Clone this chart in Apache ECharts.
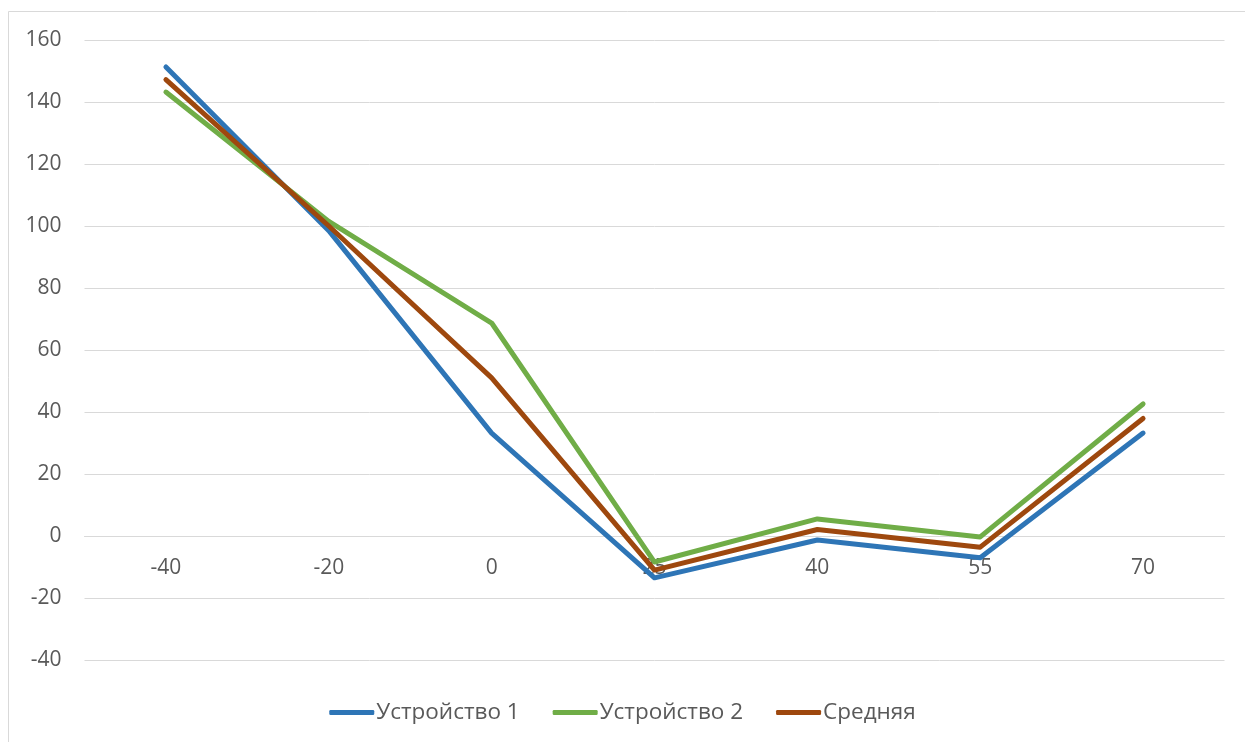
<!DOCTYPE html>
<html><head><meta charset="utf-8">
<script src="https://cdn.jsdelivr.net/npm/echarts@6/dist/echarts.min.js"></script>
<style>html,body{margin:0;padding:0;background:#fff}#c{width:1245px;height:742px}</style>
</head><body><div id="c"></div>
<script>
const categories = ['-40', '-20', '0', '25', '40', '55', '70'];
const device1 = [151.3, 98.5, 33.2, -13.5, -1.3, -7.0, 33.2];
const device2 = [143.2, 101.5, 68.7, -8.4, 5.5, -0.3, 42.6];
const average = [147.2, 100.0, 51.0, -11.0, 2.1, -3.6, 37.9];
const seriesNames = ['Устройство 1', 'Устройство 2', 'Средняя'];
const colors = ['#2E75B6', '#70AD47', '#9E480E'];
const font = '"Open Sans", "Liberation Sans", sans-serif';

const chart = echarts.init(document.getElementById('c'), null, {renderer: 'canvas'});
const mk = (name, data, color) => ({
  name, type: 'line', data, symbol: 'none', smooth: false,
  lineStyle: {color, width: 5, cap: 'round', join: 'round'},
  itemStyle: {color}, z: 3
});
chart.setOption({
  animation: false,
  backgroundColor: '#fff',
  graphic: [{type: 'rect', shape: {x: 8.5, y: 11.5, width: 1300, height: 800},
    style: {fill: 'none', stroke: '#d9d9d9', lineWidth: 1}, silent: true, z: -1}],
  grid: {left: 84.5, right: 20.5, top: 40, bottom: 82, containLabel: false},
  legend: {
    bottom: 13, left: 'center', icon: 'roundRect', itemWidth: 45, itemHeight: 5,
    itemGap: 33,
    textStyle: {color: '#595959', fontSize: 22.5, fontFamily: font, padding: [0, 0, 0, -3]},
    data: seriesNames
  },
  xAxis: {
    type: 'category', data: categories, boundaryGap: true, position: 'bottom', offset: -124,
    axisLine: {show: true, onZero: false, lineStyle: {color: '#d9d9d9', width: 1}},
    axisTick: {show: false},
    axisLabel: {color: '#595959', fontSize: 21, fontFamily: font, margin: 22},
    splitLine: {show: false}, z: 1
  },
  yAxis: {
    type: 'value', min: -40, max: 160, interval: 20,
    axisLine: {show: false}, axisTick: {show: false},
    axisLabel: {color: '#595959', fontSize: 21, fontFamily: font, margin: 23},
    splitLine: {lineStyle: {color: '#d9d9d9', width: 1}}
  },
  series: [mk(seriesNames[0], device1, colors[0]), mk(seriesNames[1], device2, colors[1]), mk(seriesNames[2], average, colors[2])]
});
</script></body></html>
